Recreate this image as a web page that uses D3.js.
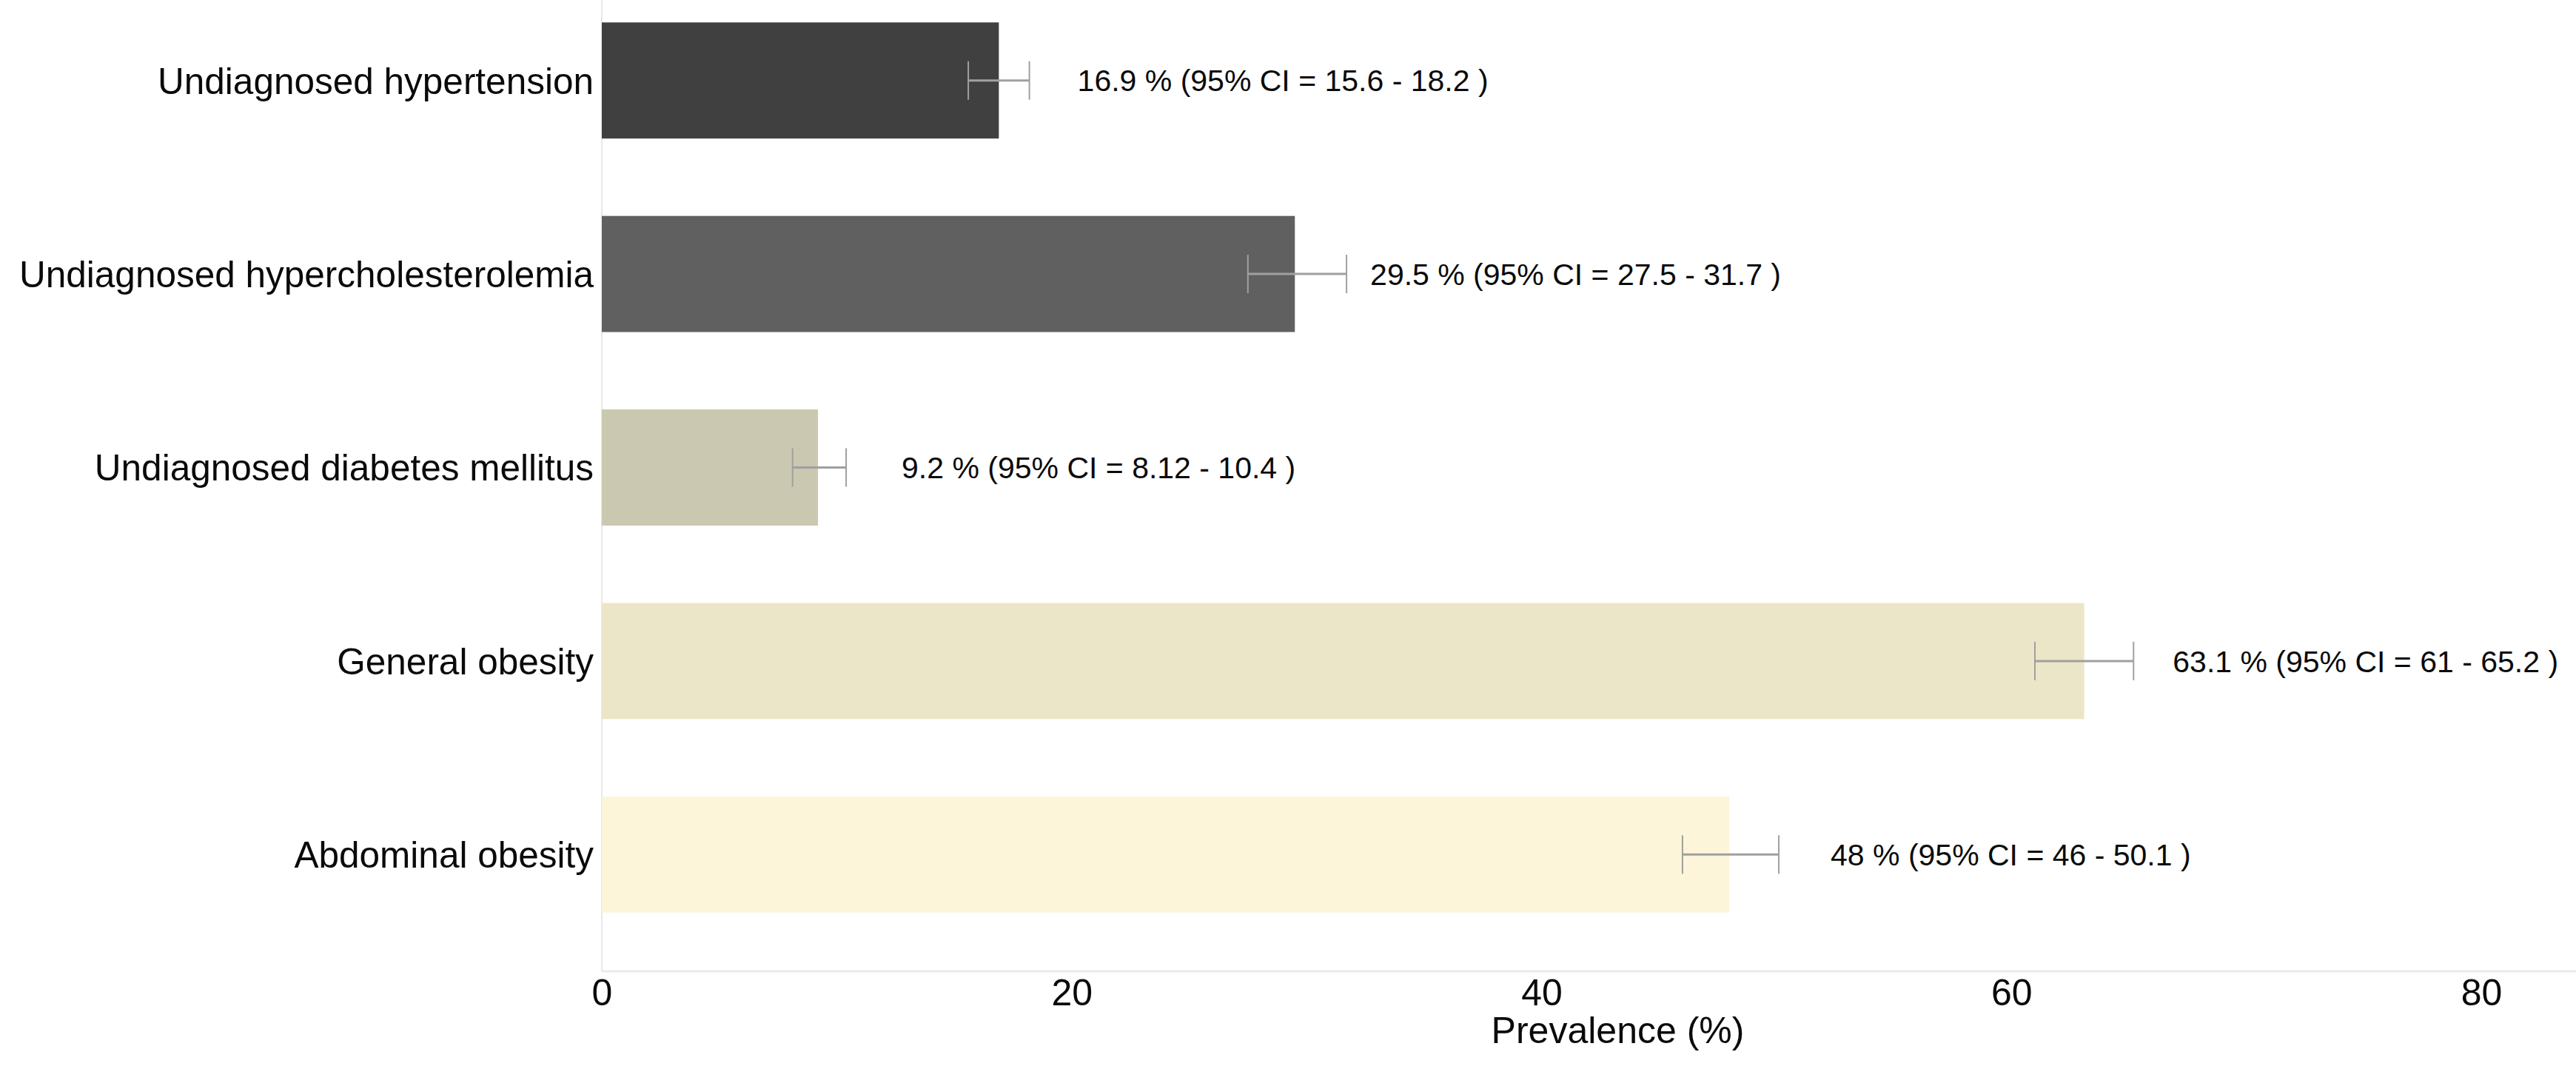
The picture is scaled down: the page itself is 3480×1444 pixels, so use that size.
<!DOCTYPE html>
<html>
<head>
<meta charset="utf-8">
<script src="https://cdn.jsdelivr.net/npm/d3@7"></script>
<style>
  html, body { margin: 0; padding: 0; background: #ffffff; }
  svg { display: block; font-family: "Liberation Sans", Arial, sans-serif; }
</style>
</head>
<body>
<svg id="chart" width="3480" height="1444"></svg>
<script>
// ---- data ----
const categories = [
  "Undiagnosed hypertension",
  "Undiagnosed hypercholesterolemia",
  "Undiagnosed diabetes mellitus",
  "General obesity",
  "Abdominal obesity"
];
const prevalence = [16.9, 29.5, 9.2, 63.1, 48];
const ciLower = [15.6, 27.5, 8.12, 61, 46];
const ciUpper = [18.2, 31.7, 10.4, 65.2, 50.1];
const xTicks = [0, 20, 40, 60, 80];
const xTitle = "Prevalence (%)";

// ---- styles / layout ----
const barColors = ["#404040", "#606060", "#cbc8b1", "#ece6c9", "#fcf5d9"];
const labelGap = [65, 32, 75, 53, 70];

const svg = d3.select("#chart");
const W = 3480, H = 1444;

const x = d3.scaleLinear().domain([0, 80]).range([813, 3352]);
const y = d3.scaleBand().domain(categories).range([-22, 1285]).paddingInner(0.4).paddingOuter(0.2);
const axisY = 1312;

// axis lines
svg.append("line")
  .attr("x1", x(0)).attr("x2", x(0)).attr("y1", 0).attr("y2", axisY)
  .attr("stroke", "#e8e8e8").attr("stroke-width", 2);
svg.append("line")
  .attr("x1", x(0)).attr("x2", W).attr("y1", axisY).attr("y2", axisY)
  .attr("stroke", "#ebebeb").attr("stroke-width", 3);

// bars
svg.append("g").selectAll("rect")
  .data(categories)
  .join("rect")
  .attr("x", x(0))
  .attr("y", d => y(d))
  .attr("width", (d, i) => x(prevalence[i]) - x(0))
  .attr("height", y.bandwidth())
  .attr("fill", (d, i) => barColors[i]);

// error bars
const capH = 52;
const eb = svg.append("g");
categories.forEach((c, i) => {
  const cy = y(c) + y.bandwidth() / 2;
  eb.append("line")
    .attr("x1", x(ciLower[i])).attr("x2", x(ciUpper[i]))
    .attr("y1", cy).attr("y2", cy)
    .attr("stroke", "#a0a0a0").attr("stroke-width", 3);
  [ciLower[i], ciUpper[i]].forEach(v => {
    eb.append("line")
      .attr("x1", x(v)).attr("x2", x(v))
      .attr("y1", cy - capH / 2).attr("y2", cy + capH / 2)
      .attr("stroke", "#a0a0a0").attr("stroke-width", 2);
  });
  eb.append("text")
    .attr("x", x(ciUpper[i]) + labelGap[i])
    .attr("y", cy)
    .attr("dy", "0.36em")
    .attr("font-size", 41)
    .attr("fill", "#0a0a0a")
    .text(`${prevalence[i]} % (95% CI = ${ciLower[i]} - ${ciUpper[i]} )`);
});

// category labels
svg.append("g").selectAll("text")
  .data(categories)
  .join("text")
  .attr("x", x(0) - 11)
  .attr("y", d => y(d) + y.bandwidth() / 2)
  .attr("dy", "0.36em")
  .attr("text-anchor", "end")
  .attr("font-size", 49.5)
  .attr("fill", "#0a0a0a")
  .text(d => d);

// x axis
const xAxis = d3.axisBottom(x).tickValues(xTicks).tickSize(0).tickPadding(10);
const gx = svg.append("g").attr("transform", `translate(0,${axisY})`).call(xAxis);
gx.select(".domain").remove();
gx.selectAll("text")
  .attr("font-size", 50)
  .attr("font-family", "Liberation Sans, Arial, sans-serif")
  .attr("fill", "#0a0a0a");

// x title
svg.append("text")
  .attr("x", (x(0) + W) / 2 + 39)
  .attr("y", 1409)
  .attr("text-anchor", "middle")
  .attr("font-size", 50)
  .attr("fill", "#0a0a0a")
  .text(xTitle);
</script>
</body>
</html>
